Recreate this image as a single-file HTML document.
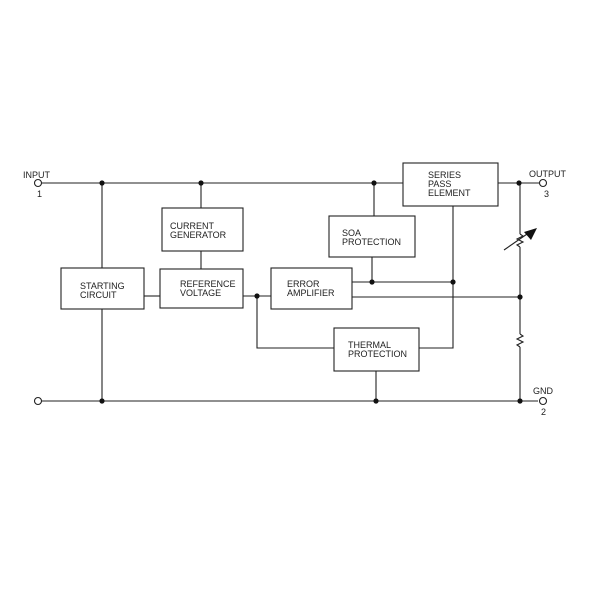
<!DOCTYPE html>
<html><head><style>body{margin:0;background:#fff}svg{display:block}</style></head><body>
<svg width="600" height="600" viewBox="0 0 600 600" xmlns="http://www.w3.org/2000/svg" font-family="Liberation Sans, sans-serif" font-size="9" fill="#222">
<g stroke="#222" stroke-width="1.1" fill="none">
<line x1="41" y1="183" x2="403" y2="183"/>
<line x1="498" y1="183" x2="540" y2="183"/>
<line x1="41" y1="401" x2="538" y2="401"/>
<line x1="102" y1="183" x2="102" y2="268"/>
<line x1="102" y1="309" x2="102" y2="401"/>
<line x1="201" y1="183" x2="201" y2="208"/>
<line x1="201" y1="251" x2="201" y2="269"/>
<line x1="144" y1="296" x2="160" y2="296"/>
<line x1="243" y1="296" x2="271" y2="296"/>
<polyline points="257,296 257,348 334,348"/>
<line x1="374" y1="183" x2="374" y2="216"/>
<line x1="372" y1="257" x2="372" y2="282"/>
<line x1="352" y1="282" x2="453" y2="282"/>
<polyline points="453,206 453,348 419,348"/>
<line x1="352" y1="297" x2="520" y2="297"/>
<line x1="376" y1="371" x2="376" y2="401"/>
<line x1="520" y1="183" x2="520" y2="234"/>
<polyline points="520,234 523,236 517,239 523,242 517,245 520,247"/>
<line x1="520" y1="247" x2="520" y2="334"/>
<polyline points="520,334 523,336 517,339 523,342 517,345 520,347"/>
<line x1="520" y1="347" x2="520" y2="401"/>
<line x1="504" y1="250" x2="530" y2="232"/>
<rect x="162" y="208" width="81" height="43"/>
<rect x="61" y="268" width="83" height="41"/>
<rect x="160" y="269" width="83" height="39"/>
<rect x="271" y="268" width="81" height="41"/>
<rect x="329" y="216" width="86" height="41"/>
<rect x="403" y="163" width="95" height="43"/>
<rect x="334" y="328" width="85" height="43"/>
<circle cx="38" cy="183" r="3.5" fill="#fff"/>
<circle cx="38" cy="401" r="3.5" fill="#fff"/>
<circle cx="543" cy="183" r="3.5" fill="#fff"/>
<circle cx="543" cy="401" r="3.5" fill="#fff"/>
</g>
<polygon points="537,228 524,232 531,240" fill="#111"/>
<g fill="#111">
<circle cx="102" cy="183" r="2.6"/><circle cx="201" cy="183" r="2.6"/><circle cx="374" cy="183" r="2.6"/>
<circle cx="519" cy="183" r="2.6"/><circle cx="257" cy="296" r="2.6"/><circle cx="372" cy="282" r="2.6"/>
<circle cx="453" cy="282" r="2.6"/><circle cx="520" cy="297" r="2.6"/><circle cx="102" cy="401" r="2.6"/>
<circle cx="376" cy="401" r="2.6"/><circle cx="520" cy="401" r="2.6"/>
</g>
<text x="23" y="178">INPUT</text><text x="37" y="197">1</text>
<text x="529" y="177">OUTPUT</text><text x="544" y="197">3</text>
<text x="533" y="394">GND</text><text x="541" y="415">2</text>
<text x="170" y="229">CURRENT</text><text x="170" y="238">GENERATOR</text>
<text x="80" y="289">STARTING</text><text x="80" y="298">CIRCUIT</text>
<text x="180" y="287">REFERENCE</text><text x="180" y="296">VOLTAGE</text>
<text x="287" y="287">ERROR</text><text x="287" y="296">AMPLIFIER</text>
<text x="342" y="236">SOA</text><text x="342" y="245">PROTECTION</text>
<text x="428" y="178">SERIES</text><text x="428" y="187">PASS</text><text x="428" y="196">ELEMENT</text>
<text x="348" y="348">THERMAL</text><text x="348" y="357">PROTECTION</text>
</svg>
</body></html>
